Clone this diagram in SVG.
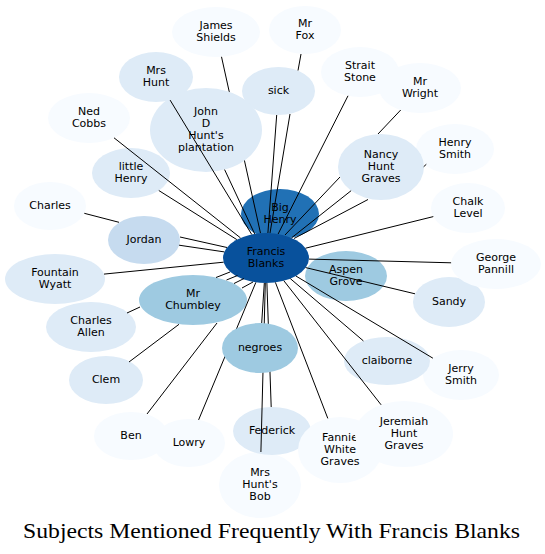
<svg xmlns="http://www.w3.org/2000/svg" width="545" height="554" viewBox="0 0 545 554">
<style>
.c0{fill:#f7fbff}.c1{fill:#deebf7}.c2{fill:#c6dbef}.c3{fill:#9ecae1}.c6{fill:#2171b5}.c7{fill:#08519c}
.t{font-family:"DejaVu Sans",sans-serif;font-size:11px;text-anchor:middle;fill:#000}
.e line{stroke:#000;stroke-width:1;fill:none}
</style>
<rect width="545" height="554" fill="#fff"/>
<g id="nodes-back">
<g id="james-shields"><ellipse class="c0" cx="216" cy="32" rx="44" ry="25"/><text class="t"><tspan x="216" y="29.3">James</tspan><tspan x="216" y="41.3">Shields</tspan></text></g>
<g id="mr-fox"><ellipse class="c0" cx="305" cy="30" rx="36" ry="24"/><text class="t"><tspan x="305" y="26.8">Mr</tspan><tspan x="305" y="38.8">Fox</tspan></text></g>
<g id="strait-stone"><ellipse class="c0" cx="360" cy="72" rx="39" ry="25"/><text class="t"><tspan x="360" y="68.5">Strait</tspan><tspan x="360" y="80.5">Stone</tspan></text></g>
<g id="mr-wright"><ellipse class="c0" cx="420" cy="88" rx="41" ry="25"/><text class="t"><tspan x="420" y="84.5">Mr</tspan><tspan x="420" y="96.5">Wright</tspan></text></g>
<g id="henry-smith"><ellipse class="c0" cx="455" cy="149" rx="39" ry="25"/><text class="t"><tspan x="455" y="146">Henry</tspan><tspan x="455" y="158">Smith</tspan></text></g>
<g id="nancy-hunt-graves"><ellipse class="c1" cx="381" cy="167" rx="43" ry="33"/><text class="t"><tspan x="381" y="158.3">Nancy</tspan><tspan x="381" y="170.3">Hunt</tspan><tspan x="381" y="182.3">Graves</tspan></text></g>
<g id="sick"><ellipse class="c1" cx="278.5" cy="91" rx="36.5" ry="24"/><text class="t"><tspan x="278.5" y="94.3">sick</tspan></text></g>
<g id="mrs-hunt"><ellipse class="c1" cx="156" cy="77" rx="37" ry="25"/><text class="t"><tspan x="156" y="74">Mrs</tspan><tspan x="156" y="86">Hunt</tspan></text></g>
<g id="ned-cobbs"><ellipse class="c0" cx="89" cy="118" rx="41" ry="25"/><text class="t"><tspan x="89" y="115.3">Ned</tspan><tspan x="89" y="127.3">Cobbs</tspan></text></g>
<g id="little-henry"><ellipse class="c1" cx="131" cy="173" rx="39" ry="25"/><text class="t"><tspan x="131" y="170.3">little</tspan><tspan x="131" y="182.3">Henry</tspan></text></g>
<g id="charles"><ellipse class="c0" cx="50" cy="206" rx="36" ry="24"/><text class="t"><tspan x="50" y="209">Charles</tspan></text></g>
<g id="jordan"><ellipse class="c2" cx="144" cy="240" rx="36" ry="24"/><text class="t"><tspan x="144" y="243.3">Jordan</tspan></text></g>
<g id="fountain-wyatt"><ellipse class="c1" cx="55" cy="279" rx="50" ry="25"/><text class="t"><tspan x="55" y="276.3">Fountain</tspan><tspan x="55" y="288.3">Wyatt</tspan></text></g>
<g id="mr-chumbley"><ellipse class="c3" cx="193" cy="300" rx="54" ry="25"/><text class="t"><tspan x="193" y="297.3">Mr</tspan><tspan x="193" y="309.3">Chumbley</tspan></text></g>
<g id="charles-allen"><ellipse class="c1" cx="91" cy="327" rx="45" ry="25"/><text class="t"><tspan x="91" y="324.3">Charles</tspan><tspan x="91" y="336.3">Allen</tspan></text></g>
<g id="clem"><ellipse class="c1" cx="106" cy="380" rx="37" ry="24"/><text class="t"><tspan x="106" y="382.5">Clem</tspan></text></g>
<g id="ben"><ellipse class="c0" cx="131" cy="436" rx="37" ry="24"/><text class="t"><tspan x="131" y="439.3">Ben</tspan></text></g>
<g id="lowry"><ellipse class="c0" cx="189" cy="443" rx="36" ry="24"/><text class="t"><tspan x="189" y="446.3">Lowry</tspan></text></g>
<g id="mrs-hunts-bob"><ellipse class="c0" cx="260" cy="485" rx="41" ry="33"/><text class="t"><tspan x="260" y="476.3">Mrs</tspan><tspan x="260" y="488.3">Hunt's</tspan><tspan x="260" y="500.3">Bob</tspan></text></g>
<g id="federick"><ellipse class="c1" cx="272" cy="431" rx="39" ry="24"/><text class="t"><tspan x="272" y="434.3">Federick</tspan></text></g>
<g id="fannie-white-graves"><ellipse class="c0" cx="340" cy="450" rx="42" ry="33"/><text class="t"><tspan x="340" y="441.3">Fannie</tspan><tspan x="340" y="453.3">White</tspan><tspan x="340" y="465.3">Graves</tspan></text></g>
<g id="jeremiah-hunt-graves"><ellipse class="c0" cx="404" cy="434" rx="49" ry="33"/><text class="t"><tspan x="404" y="425.3">Jeremiah</tspan><tspan x="404" y="437.3">Hunt</tspan><tspan x="404" y="449.3">Graves</tspan></text></g>
<g id="jerry-smith"><ellipse class="c0" cx="461" cy="375" rx="38" ry="25"/><text class="t"><tspan x="461" y="372.3">Jerry</tspan><tspan x="461" y="384.3">Smith</tspan></text></g>
<g id="claiborne"><ellipse class="c1" cx="387" cy="361" rx="43" ry="24"/><text class="t"><tspan x="387" y="364.3">claiborne</tspan></text></g>
<g id="sandy"><ellipse class="c1" cx="449" cy="302" rx="36" ry="25"/><text class="t"><tspan x="449" y="305.3">Sandy</tspan></text></g>
<g id="george-pannill"><ellipse class="c0" cx="496" cy="264" rx="45" ry="25"/><text class="t"><tspan x="496" y="261.3">George</tspan><tspan x="496" y="273.3">Pannill</tspan></text></g>
<g id="chalk-level"><ellipse class="c0" cx="468" cy="208" rx="37" ry="25"/><text class="t"><tspan x="468" y="205.3">Chalk</tspan><tspan x="468" y="217.3">Level</tspan></text></g>
<g id="aspen-grove"><ellipse class="c3" cx="346" cy="276" rx="41" ry="25"/><text class="t"><tspan x="346" y="273.3">Aspen</tspan><tspan x="346" y="285.3">Grove</tspan></text></g>
<g id="big-henry"><ellipse class="c6" cx="280" cy="214" rx="39" ry="25"/><text class="t"><tspan x="280" y="211.3">Big</tspan><tspan x="280" y="223.3">Henry</tspan></text></g>
</g>
<g id="connectors-back" class="e">
<line x1="221.5" y1="56.8" x2="260.5" y2="233.2"/>
<line x1="266.9" y1="283" x2="271.2" y2="407"/>
<line x1="265.3" y1="283" x2="260.9" y2="452"/>
<line x1="198.6" y1="419.9" x2="255.9" y2="282.3"/>
</g>
<g id="nodes-front">
<g id="john-d-hunts-plantation"><ellipse class="c1" cx="206" cy="130" rx="56" ry="42"/><text class="t"><tspan x="206" y="115.3">John</tspan><tspan x="206" y="127.3">D</tspan><tspan x="206" y="139.3">Hunt's</tspan><tspan x="206" y="151.3">plantation</tspan></text></g>
<g id="negroes"><ellipse class="c3" cx="260" cy="348" rx="38" ry="25"/><text class="t"><tspan x="260" y="351.3">negroes</tspan></text></g>
<g id="francis-blanks"><ellipse class="c7" cx="266" cy="258" rx="43" ry="25"/><text class="t"><tspan x="266" y="255.3">Francis</tspan><tspan x="266" y="267.3">Blanks</tspan></text></g>
</g>
<g id="connectors" class="e">
<line x1="170.1" y1="100.1" x2="251.7" y2="234.4"/>
<line x1="224.6" y1="169.6" x2="254.7" y2="233.9"/>
<line x1="114" y1="137.8" x2="240.5" y2="237.9"/>
<line x1="158.8" y1="190.5" x2="236.8" y2="239.6"/>
<line x1="179.1" y1="245.2" x2="224.3" y2="251.9"/>
<line x1="180" y1="237" x2="227" y2="247.5"/>
<line x1="84.3" y1="213.3" x2="119" y2="222.3"/>
<line x1="104" y1="274.1" x2="223.6" y2="262.2"/>
<line x1="216" y1="277.5" x2="230" y2="272"/>
<line x1="226.5" y1="280" x2="237.5" y2="275.5"/>
<line x1="234" y1="283.5" x2="244" y2="278.5"/>
<line x1="242" y1="288" x2="253" y2="282"/>
<line x1="179" y1="324.3" x2="129" y2="362"/>
<line x1="217" y1="323" x2="147" y2="414"/>
<line x1="140" y1="307" x2="127" y2="313"/>
<line x1="264.3" y1="283" x2="261.7" y2="323"/>
<line x1="275.4" y1="282.4" x2="327.8" y2="418.4"/>
<line x1="283.8" y1="280.7" x2="381.1" y2="404.8"/>
<line x1="290.3" y1="278.6" x2="363.4" y2="340.9"/>
<line x1="295.9" y1="276" x2="432.9" y2="358.2"/>
<line x1="305.7" y1="267.6" x2="415" y2="293.8"/>
<line x1="309" y1="259.1" x2="451.1" y2="262.8"/>
<line x1="305.6" y1="248.2" x2="433.3" y2="216.6"/>
<line x1="340" y1="177" x2="285" y2="235"/>
<line x1="351.1" y1="190.7" x2="291.5" y2="237.9"/>
<line x1="368" y1="199.5" x2="294" y2="238.5"/>
<line x1="348" y1="95.8" x2="278.1" y2="234"/>
<line x1="276.7" y1="115" x2="267.9" y2="233"/>
<line x1="290" y1="114" x2="270" y2="233.1"/>
<line x1="301" y1="54" x2="298" y2="70.5"/>
<line x1="400.7" y1="110" x2="378" y2="134"/>
<line x1="423.7" y1="166.7" x2="426.3" y2="164.3"/>
</g>
<text x="271.5" y="538" font-family="Liberation Serif, serif" font-size="22" text-anchor="middle" textLength="497" lengthAdjust="spacingAndGlyphs" fill="#000">Subjects Mentioned Frequently With Francis Blanks</text>
</svg>
